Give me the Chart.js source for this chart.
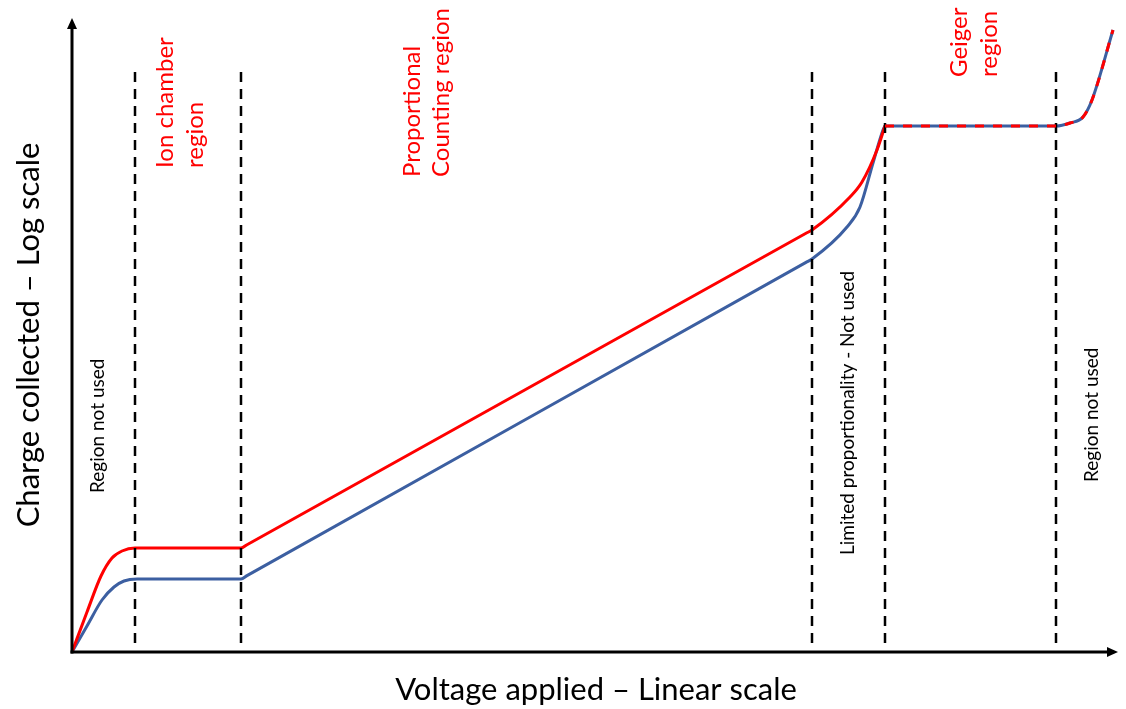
<!DOCTYPE html>
<html lang="en">
<head>
    <meta charset="UTF-8">
    <title>Gas detector regions</title>
    <script src="https://cdn.jsdelivr.net/npm/chart.js"></script>
    <style>
        html, body { margin: 0; padding: 0; background: #fff; }
        #wrap { width: 1126px; height: 709px; }
    </style>
</head>
<body>
    <div id="wrap">
        <canvas id="regions-chart" width="1126" height="709"></canvas>
    </div>
    <script>
    // Voltage (arbitrary linear units) and charge (arbitrary log units)
    const redVoltage  = [0, 15, 29, 40, 50, 63, 169, 175, 734, 740, 778, 790, 805, 813];
    const redCharge   = [0, 40, 76, 94, 101, 104, 104, 107.3, 418.7, 422, 455, 470, 502, 526];
    const blueVoltage = [0, 15, 30, 42, 52, 65, 169, 175, 734, 740, 775, 788, 801, 811, 813];
    const blueCharge  = [0, 26, 52, 65, 71, 73, 73, 76.4, 389.6, 393, 425, 445, 489, 522, 526];
    // shared part: Geiger plateau and discharge
    const geigerVoltage = [813, 984, 998, 1011, 1020, 1041];
    const geigerCharge  = [526, 526, 529, 535, 552, 622];

    // region boundaries (dashed verticals)
    const boundaryVoltage = [63, 169, 740, 813, 984];
    const boundaryTop = 580;
    const boundaryBottom = 2;

    const xMax = 1046;
    const yMax = 634;

    const RED = '#ff0000';
    const BLUE = '#3c5fa1';

    function pts(xs, ys) {
        return xs.map((x, i) => ({ x: x, y: ys[i] }));
    }

    const datasets = [];
    boundaryVoltage.forEach(v => {
        datasets.push({
            data: [{ x: v, y: boundaryTop }, { x: v, y: boundaryBottom }],
            borderColor: '#000',
            borderWidth: 2.5,
            borderDash: [10, 7],
            pointRadius: 0,
            tension: 0,
            order: 1
        });
    });
    datasets.push({
        data: pts(redVoltage, redCharge),
        borderColor: RED, borderWidth: 3, pointRadius: 0,
        cubicInterpolationMode: 'monotone', borderCapStyle: 'round', order: 3
    });
    datasets.push({
        data: pts(blueVoltage, blueCharge),
        borderColor: BLUE, borderWidth: 3, pointRadius: 0,
        cubicInterpolationMode: 'monotone', borderCapStyle: 'round', order: 3
    });
    datasets.push({
        data: pts(geigerVoltage, geigerCharge),
        borderColor: BLUE, borderWidth: 3, pointRadius: 0,
        cubicInterpolationMode: 'monotone', order: 2
    });
    datasets.push({
        data: pts(geigerVoltage, geigerCharge),
        borderColor: RED, borderWidth: 3, pointRadius: 0, borderDash: [9, 9],
        cubicInterpolationMode: 'monotone', order: 0
    });

    // rotated labels: text lines, voltage of first baseline, charge where text starts
    const labels = [
        { lines: ['Ion chamber', 'region'], x: 101, y: 484, color: RED, size: 24, gap: 30 },
        { lines: ['Proportional', 'Counting region'], x: 348, y: 475, color: RED, size: 24, gap: 29 },
        { lines: ['Geiger', 'region'], x: 895, y: 575, color: RED, size: 24, gap: 30 },
        { lines: ['Region not used'], x: 32, y: 159, color: '#000', size: 19, gap: 0 },
        { lines: ['Limited proportionality - Not used'], x: 782, y: 97, color: '#000', size: 19, gap: 0 },
        { lines: ['Region not used'], x: 1026, y: 170, color: '#000', size: 19, gap: 0 }
    ];

    const axesPlugin = {
        id: 'axesPlugin',
        afterDatasetsDraw(chart) {
            const ctx = chart.ctx;
            const a = chart.chartArea;
            const xs = chart.scales.x, ys = chart.scales.y;
            const ox = xs.getPixelForValue(0), oy = ys.getPixelForValue(0);
            ctx.save();
            ctx.strokeStyle = '#000';
            ctx.fillStyle = '#000';
            ctx.lineWidth = 3;
            // y axis
            ctx.beginPath();
            ctx.moveTo(ox, oy + 1.5);
            ctx.lineTo(ox, a.top + 8);
            ctx.stroke();
            ctx.beginPath();
            ctx.moveTo(ox, a.top);
            ctx.lineTo(ox - 5, a.top + 11);
            ctx.lineTo(ox + 5, a.top + 11);
            ctx.closePath();
            ctx.fill();
            // x axis
            ctx.beginPath();
            ctx.moveTo(ox - 1.5, oy);
            ctx.lineTo(a.right - 8, oy);
            ctx.stroke();
            ctx.beginPath();
            ctx.moveTo(a.right, oy);
            ctx.lineTo(a.right - 11, oy - 5);
            ctx.lineTo(a.right - 11, oy + 5);
            ctx.closePath();
            ctx.fill();

            // axis titles
            ctx.font = '31px Lato';
            ctx.textAlign = 'center';
            ctx.textBaseline = 'middle';
            ctx.fillText('Voltage applied \u2013 Linear scale', 596, 690);
            ctx.save();
            ctx.translate(29, 335);
            ctx.rotate(-Math.PI / 2);
            ctx.fillText('Charge collected \u2013 Log scale', 0, 0);
            ctx.restore();

            // region labels
            labels.forEach(l => {
                const px = xs.getPixelForValue(l.x);
                const py = ys.getPixelForValue(l.y);
                ctx.save();
                ctx.translate(px, py);
                ctx.rotate(-Math.PI / 2);
                ctx.font = l.size + 'px Lato';
                ctx.fillStyle = l.color;
                ctx.textAlign = 'left';
                ctx.textBaseline = 'alphabetic';
                l.lines.forEach((t, i) => ctx.fillText(t, 0, i * l.gap));
                ctx.restore();
            });
            ctx.restore();
        }
    };

    new Chart(document.getElementById('regions-chart'), {
        type: 'line',
        data: { datasets: datasets },
        options: {
            responsive: false,
            animation: false,
            layout: { padding: { left: 72, right: 8, top: 18, bottom: 57 } },
            plugins: { legend: { display: false }, tooltip: { enabled: false } },
            scales: {
                x: { type: 'linear', min: 0, max: xMax, display: false },
                y: { type: 'linear', min: 0, max: yMax, display: false }
            }
        },
        plugins: [axesPlugin]
    });
    </script>
</body>
</html>
